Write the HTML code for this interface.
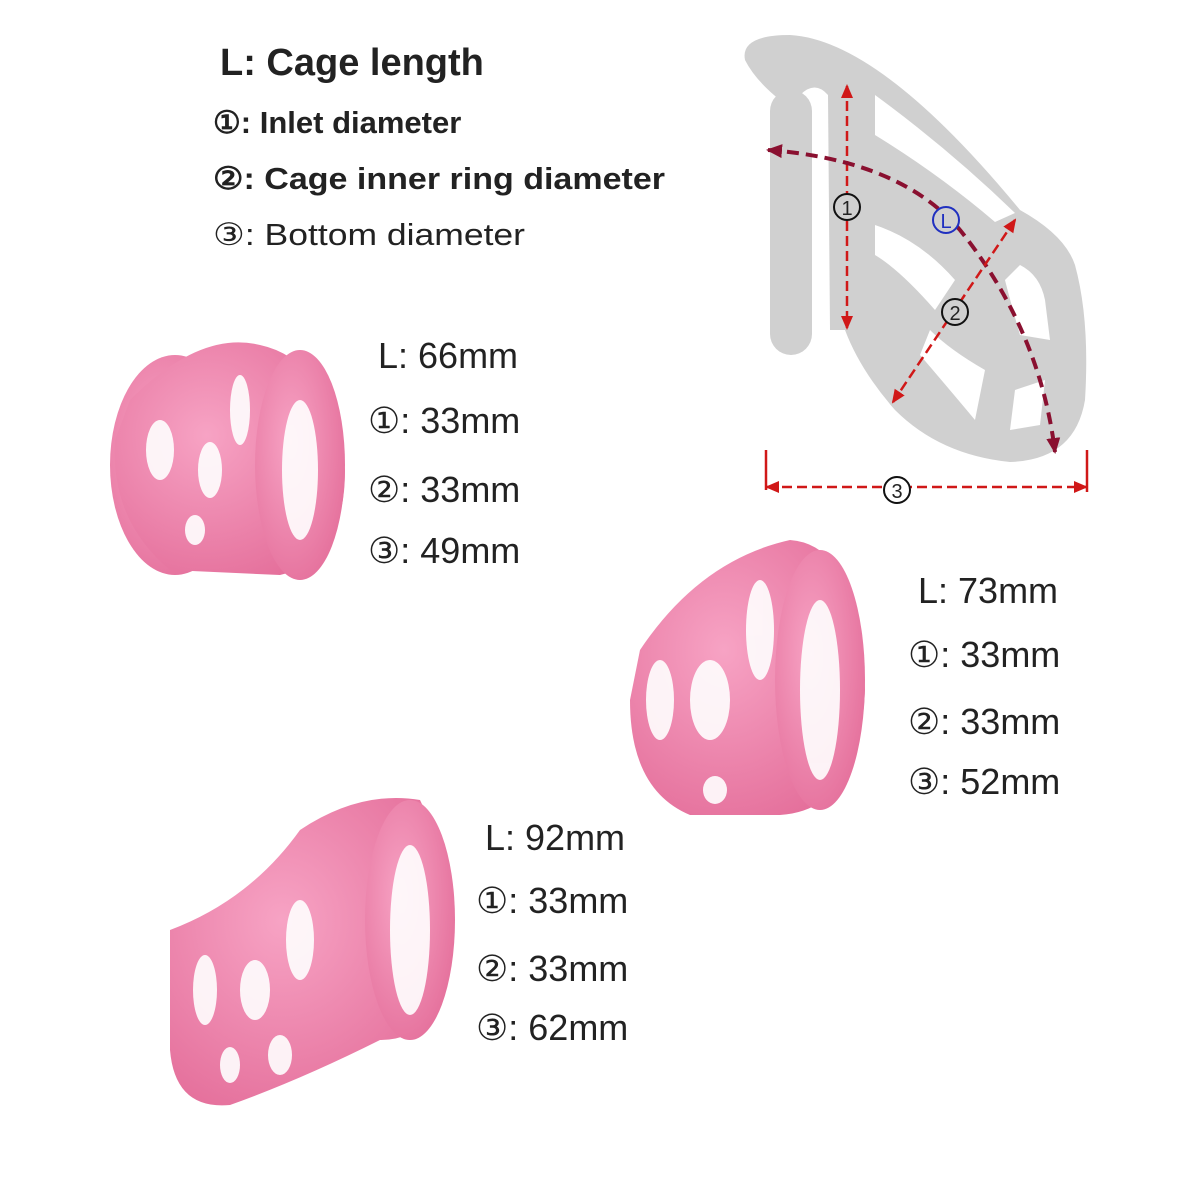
<!DOCTYPE html>
<html><head><meta charset="utf-8"><style>
body{margin:0;background:#fff}
svg{display:block}
text{font-family:"Liberation Sans",sans-serif;fill:#222}
</style></head><body>
<svg width="1200" height="1200" viewBox="0 0 1200 1200" xmlns="http://www.w3.org/2000/svg">
<defs>
<marker id="ar" markerUnits="userSpaceOnUse" markerWidth="14" markerHeight="12" refX="12" refY="6" orient="auto-start-reverse"><path d="M0,0 L14,6 L0,12z" fill="#d01818"/></marker>
<marker id="ad" markerUnits="userSpaceOnUse" markerWidth="16" markerHeight="14" refX="14" refY="7" orient="auto-start-reverse"><path d="M0,0 L16,7 L0,14z" fill="#8a1030"/></marker>
<radialGradient id="pk" cx="40%" cy="40%" r="70%"><stop offset="0" stop-color="#f7a3c4"/><stop offset="1" stop-color="#e46e9a"/></radialGradient>
</defs>
<!-- legend -->
<text x="220" y="75" font-size="38" font-weight="bold">L: Cage length</text>
<text x="213" y="133" font-size="31" font-weight="bold">①: Inlet diameter</text>
<text x="213" y="189" font-size="31" font-weight="bold" textLength="452" lengthAdjust="spacingAndGlyphs">②: Cage inner ring diameter</text>
<text x="213" y="245" font-size="31" textLength="312" lengthAdjust="spacingAndGlyphs">③: Bottom diameter</text>

<!-- gray diagram -->
<path d="M745,60 Q740,35 790,35 Q880,40 1020,210 Q1065,235 1075,265 Q1090,320 1085,400 Q1075,460 1010,462 Q940,455 895,410 Q860,370 845,330 L830,330 L828,95 Q815,80 800,95 L780,100 Q755,80 745,60z" fill="#d0d0d0"/>
<rect x="770" y="90" width="42" height="265" rx="21" fill="#d0d0d0"/>
<rect x="813" y="100" width="14" height="260" fill="#fff"/>
<path d="M875,95 Q950,150 1015,213 L995,222 Q940,175 875,135z" fill="#fff"/>
<path d="M875,225 Q920,240 955,280 L935,310 Q900,270 875,255z" fill="#fff"/>
<path d="M1020,265 Q1040,275 1045,300 L1050,340 L1020,335 Q1010,300 1005,280z" fill="#fff"/>
<path d="M930,330 Q950,350 985,370 L975,420 Q950,390 920,355z" fill="#fff"/>
<path d="M1015,390 L1045,380 L1040,425 L1010,430z" fill="#fff"/>
<!-- arrows -->
<line x1="847" y1="86" x2="847" y2="328" stroke="#d01818" stroke-width="2.5" stroke-dasharray="10,5" marker-start="url(#ar)" marker-end="url(#ar)"/>
<path d="M768,150 Q900,160 960,230 Q1040,330 1055,452" fill="none" stroke="#8a1030" stroke-width="4" stroke-dasharray="12,7" marker-start="url(#ad)" marker-end="url(#ad)"/>
<line x1="1015" y1="220" x2="893" y2="402" stroke="#d01818" stroke-width="2.5" stroke-dasharray="10,5" marker-start="url(#ar)" marker-end="url(#ar)"/>
<line x1="766" y1="450" x2="766" y2="490" stroke="#d01818" stroke-width="2.5"/>
<line x1="1087" y1="450" x2="1087" y2="492" stroke="#d01818" stroke-width="2.5"/>
<line x1="767" y1="487" x2="1086" y2="487" stroke="#d01818" stroke-width="2.5" stroke-dasharray="10,5" marker-start="url(#ar)" marker-end="url(#ar)"/>
<circle cx="847" cy="207" r="13" fill="#d0d0d0" stroke="#111" stroke-width="2"/><text x="847" y="215" font-size="20" text-anchor="middle">1</text>
<circle cx="946" cy="220" r="13" fill="#d0d0d0" stroke="#2030c0" stroke-width="2"/><text x="946" y="228" font-size="20" text-anchor="middle" style="fill:#2030c0">L</text>
<circle cx="955" cy="312" r="13" fill="#d0d0d0" stroke="#111" stroke-width="2"/><text x="955" y="320" font-size="20" text-anchor="middle">2</text>
<circle cx="897" cy="490" r="13" fill="#fff" stroke="#111" stroke-width="2"/><text x="897" y="498" font-size="20" text-anchor="middle">3</text>

<!-- cage 1 -->
<g fill="url(#pk)">
<ellipse cx="175" cy="465" rx="65" ry="110"/>
<path d="M130,400 Q200,330 260,345 Q330,360 345,470 Q345,560 280,575 L170,570 Q110,520 115,440z"/>
<ellipse cx="300" cy="465" rx="45" ry="115"/>
</g>
<g fill="#fff" opacity="0.9">
<ellipse cx="160" cy="450" rx="14" ry="30"/><ellipse cx="210" cy="470" rx="12" ry="28"/><ellipse cx="240" cy="410" rx="10" ry="35"/><ellipse cx="195" cy="530" rx="10" ry="15"/><ellipse cx="300" cy="470" rx="18" ry="70"/>
</g>
<text x="378" y="368" font-size="36">L: 66mm</text>
<text x="368" y="433" font-size="36">①: 33mm</text>
<text x="368" y="502" font-size="36">②: 33mm</text>
<text x="368" y="563" font-size="36">③: 49mm</text>

<!-- cage 2 -->
<g fill="url(#pk)">
<path d="M640,650 Q700,560 790,540 Q860,545 865,690 Q860,810 780,815 L690,815 Q630,790 630,700z"/>
<ellipse cx="820" cy="680" rx="45" ry="130"/>
</g>
<g fill="#fff" opacity="0.9">
<ellipse cx="660" cy="700" rx="14" ry="40"/><ellipse cx="710" cy="700" rx="20" ry="40"/><ellipse cx="760" cy="630" rx="14" ry="50"/><ellipse cx="715" cy="790" rx="12" ry="14"/><ellipse cx="820" cy="690" rx="20" ry="90"/>
</g>
<text x="918" y="603" font-size="36">L: 73mm</text>
<text x="908" y="667" font-size="36">①: 33mm</text>
<text x="908" y="734" font-size="36">②: 33mm</text>
<text x="908" y="794" font-size="36">③: 52mm</text>

<!-- cage 3 -->
<g fill="url(#pk)">
<path d="M170,930 Q250,900 300,830 Q360,790 420,800 Q450,860 450,960 Q440,1040 380,1040 Q300,1080 230,1105 Q175,1110 170,1050z"/>
<ellipse cx="410" cy="920" rx="45" ry="120"/>
</g>
<g fill="#fff" opacity="0.9">
<ellipse cx="205" cy="990" rx="12" ry="35"/><ellipse cx="255" cy="990" rx="15" ry="30"/><ellipse cx="300" cy="940" rx="14" ry="40"/><ellipse cx="230" cy="1065" rx="10" ry="18"/><ellipse cx="280" cy="1055" rx="12" ry="20"/><ellipse cx="410" cy="930" rx="20" ry="85"/>
</g>
<text x="485" y="850" font-size="36">L: 92mm</text>
<text x="476" y="913" font-size="36">①:  33mm</text>
<text x="476" y="981" font-size="36">②: 33mm</text>
<text x="476" y="1040" font-size="36">③: 62mm</text>
</svg>
</body></html>
